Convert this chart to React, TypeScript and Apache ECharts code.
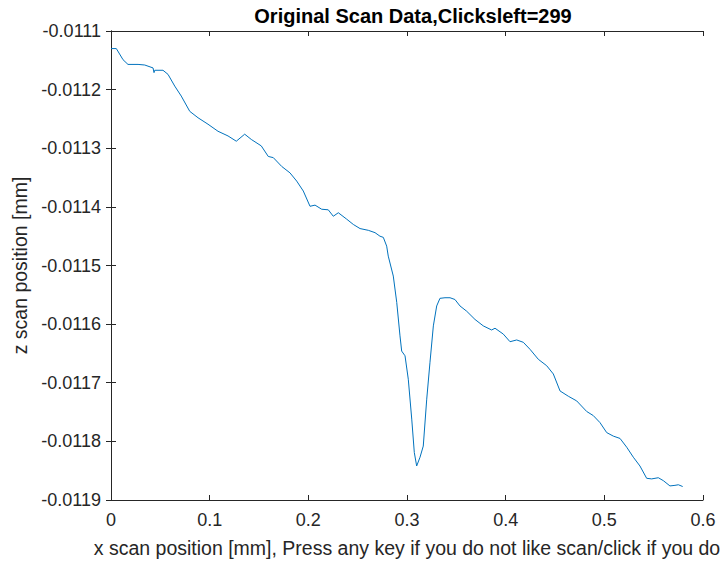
import React, { useEffect, useRef } from "react";
import * as echarts from "echarts";

// Scan profile: x position [mm] and z position [mm]
const xScan = [
  0.0, 0.0054, 0.0122, 0.0172, 0.0274, 0.0342, 0.0426, 0.0436, 0.0443, 0.0527,
  0.0578, 0.0646, 0.0712, 0.0798, 0.0882, 0.0983, 0.1084, 0.1186, 0.127, 0.1355,
  0.1422, 0.1523, 0.1594, 0.1645, 0.173, 0.1814, 0.1882, 0.1949, 0.2017, 0.2068,
  0.2135, 0.2202, 0.2253, 0.2304, 0.2389, 0.2456, 0.2524, 0.2608, 0.2676, 0.2726,
  0.276, 0.2794, 0.281, 0.2861, 0.2896, 0.2929, 0.2946, 0.298, 0.3013, 0.3048,
  0.3074, 0.3098, 0.3132, 0.3165, 0.32, 0.3233, 0.3267, 0.3301, 0.3334, 0.3385,
  0.3436, 0.3486, 0.3537, 0.3605, 0.3689, 0.3773, 0.3858, 0.3892, 0.3976, 0.4044,
  0.4112, 0.4179, 0.4247, 0.4331, 0.4416, 0.4483, 0.4551, 0.4635, 0.472, 0.4821,
  0.4888, 0.4956, 0.5024, 0.5091, 0.5159, 0.5227, 0.5294, 0.5361, 0.5429, 0.548,
  0.5547, 0.5598, 0.5665, 0.5716, 0.575, 0.5794,
];
const zScan = [
  -0.01113, -0.01113, -0.011149, -0.011157, -0.011157, -0.011158, -0.011163, -0.011171, -0.011167, -0.011167,
  -0.011174, -0.011194, -0.011211, -0.011237, -0.011248, -0.011259, -0.011271, -0.011279, -0.011288, -0.011276,
  -0.011285, -0.011296, -0.011314, -0.011316, -0.011331, -0.011342, -0.011356, -0.011373, -0.011399, -0.011397,
  -0.011404, -0.011405, -0.011416, -0.01141, -0.011421, -0.01143, -0.011437, -0.01144, -0.011444, -0.01145,
  -0.011452, -0.011467, -0.011484, -0.011518, -0.011563, -0.01162, -0.011646, -0.011654, -0.011694, -0.011762,
  -0.011819, -0.011842, -0.011827, -0.011808, -0.011728, -0.011665, -0.011603, -0.011569, -0.011556, -0.011555,
  -0.011555, -0.011558, -0.011569, -0.011578, -0.011592, -0.011603, -0.01161, -0.011607, -0.011617, -0.01163,
  -0.011627, -0.011631, -0.011643, -0.01166, -0.011671, -0.011685, -0.011714, -0.011723, -0.011731, -0.011749,
  -0.011756, -0.011768, -0.011785, -0.011791, -0.011795, -0.01181, -0.011827, -0.011842, -0.011863, -0.011864,
  -0.011862, -0.011867, -0.011876, -0.011875, -0.011874, -0.011877,
];

const titleText = "Original Scan Data,Clicksleft=299";
const xName = "x scan position [mm], Press any key if you do not like scan/click if you do";
const yName = "z scan position [mm]";

const AXIS = "#262626";
const FONT = "'Liberation Sans', Arial, sans-serif";

export default function App() {
  const ref = useRef<HTMLDivElement>(null);

  useEffect(() => {
    if (!ref.current) return;
    const chart = echarts.init(ref.current, null, { renderer: "svg" });
    const lineData = xScan.map((x, i) => [x, zScan[i]]);

    const tickCommon = {
      axisLine: { show: true, lineStyle: { color: AXIS, width: 1 } },
      axisTick: { show: true, inside: true, length: 5, lineStyle: { color: AXIS } },
      splitLine: { show: false },
    };

    chart.setOption({
      animation: false,
      backgroundColor: "#ffffff",
      textStyle: { fontFamily: FONT },
      title: {
        text: titleText,
        left: 408,
        textAlign: "center",
        top: 1,
        textStyle: { fontFamily: FONT, fontSize: 20, fontWeight: "bold", color: "#000" },
      },
      grid: { left: 111, top: 31, right: 24, bottom: 61, containLabel: false },
      xAxis: [
        {
          type: "value",
          min: 0,
          max: 0.6,
          interval: 0.1,
          position: "bottom",
          ...tickCommon,
          axisLabel: {
            color: AXIS,
            fontSize: 18,
            fontFamily: FONT,
            margin: 11,
            formatter: (v: number) => (v === 0 ? "0" : v.toFixed(1)),
          },
          name: xName,
          nameLocation: "middle",
          nameGap: 38,
          nameTextStyle: { color: AXIS, fontSize: 19.5, fontFamily: FONT },
        },
        {
          type: "value",
          min: 0,
          max: 0.6,
          interval: 0.1,
          position: "top",
          ...tickCommon,
          axisLabel: { show: false },
        },
      ],
      yAxis: [
        {
          type: "value",
          min: -0.0119,
          max: -0.0111,
          interval: 0.0001,
          position: "left",
          ...tickCommon,
          axisLabel: {
            color: AXIS,
            fontSize: 18,
            fontFamily: FONT,
            margin: 10,
            formatter: (v: number) => v.toFixed(4),
          },
          name: yName,
          nameLocation: "middle",
          nameGap: 80,
          nameRotate: 90,
          nameTextStyle: { color: AXIS, fontSize: 19.5, fontFamily: FONT },
        },
        {
          type: "value",
          min: -0.0119,
          max: -0.0111,
          interval: 0.0001,
          position: "right",
          ...tickCommon,
          axisLabel: { show: false },
        },
      ],
      series: [
        {
          type: "line",
          data: lineData,
          xAxisIndex: 0,
          yAxisIndex: 0,
          showSymbol: false,
          smooth: false,
          lineStyle: { color: "#0072BD", width: 1 },
        },
      ],
    });

    return () => chart.dispose();
  }, []);

  return (
    <div
      ref={ref}
      style={{
        position: "fixed",
        left: 0,
        top: 0,
        width: 727,
        height: 563,
        overflow: "hidden",
        background: "#fff",
      }}
    />
  );
}
